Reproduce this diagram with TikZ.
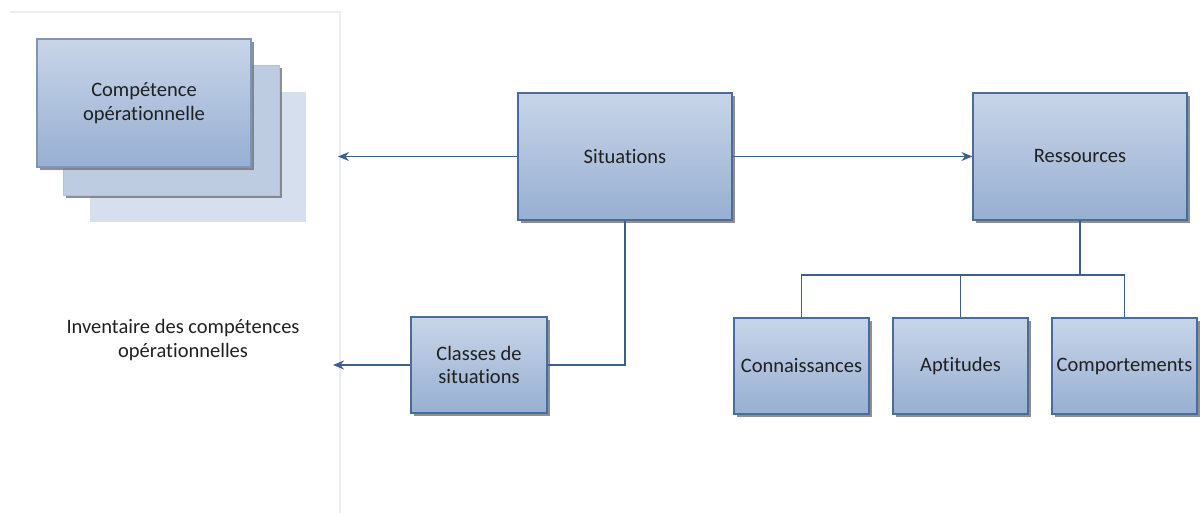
\documentclass[tikz,border=0pt]{standalone}
\usepackage{fontspec}
\setmainfont{Carlito}[Ligatures={NoCommon,NoContextual}]
\usetikzlibrary{shadows,arrows.meta,calc}
\definecolor{boxtop}{HTML}{C8D5E8}
\definecolor{boxbot}{HTML}{97AFD2}
\definecolor{boxline}{HTML}{4A6C9A}
\definecolor{conn}{HTML}{3E5F8E}
\definecolor{txt}{HTML}{202020}
\definecolor{panel}{HTML}{E8EEF6}
\definecolor{midbox}{HTML}{BDCCE1}
\definecolor{backbox}{HTML}{D5DFED}
\tikzset{
  box/.style={rectangle, draw=boxline, line width=1.2pt, inner sep=0pt,
    top color=boxtop, bottom color=boxbot, text=txt, align=center,
    font=\fontsize{20.5}{23.5}\selectfont,
    drop shadow={shadow xshift=3pt, shadow yshift=-3pt, fill=black!55, opacity=0.8}},
  conline/.style={draw=conn, line width=1.5pt},
  arr/.style={conline, -{Stealth[length=11pt,width=9pt]}},
  plain/.style={text=txt, align=center, font=\fontsize{20.5}{23.5}\selectfont}
}
\begin{document}
\begin{tikzpicture}[x=1pt,y=-1pt]
\useasboundingbox (0,0) rectangle (1200,513);
% faint panel
\draw[panel, line width=1.2pt] (10,12) -- (340,12) -- (340,513);
% stacked boxes
\node[rectangle, fill=backbox, minimum width=216, minimum height=130, inner sep=0pt] (back) at (198,157) {};
\node[rectangle, fill=midbox, draw=midbox!90!boxline, line width=0.8pt, minimum width=216, minimum height=130, inner sep=0pt,
  drop shadow={shadow xshift=3pt, shadow yshift=-3pt, fill=black!55, opacity=0.8}] (mid) at (171,130) {};
\node[box, draw=boxline!60!boxtop, minimum width=214, minimum height=128] (comp) at (144,103) {Compétence\\opérationnelle};
% main boxes
\node[box, minimum width=214, minimum height=127] (sit) at (625,156.5) {Situations};
\node[box, minimum width=214, minimum height=127] (res) at (1080,156.5) {Ressources};
\node[box, minimum width=136, minimum height=96] (cls) at (479,365) {Classes de\\situations};
\node[box, minimum width=135, minimum height=96] (con) at (801.5,366) {Connaissances};
\node[box, minimum width=135, minimum height=96] (apt) at (960.5,366) {Aptitudes};
\node[box, minimum width=145, minimum height=96] (cmp) at (1124.5,366) {Comportements};
% texts and free ends
\node[plain] (inv) at (183,340) {Inventaire des compétences\\opérationnelles};
\coordinate (e1) at (338,156.5);
\coordinate (e2) at (333,365);
\coordinate (bar) at (1080,275);
% connectors
\draw[arr] (sit.west) -- (e1);
\draw[arr] (sit.east) -- (res.west);
\draw[conline] (sit.south) |- (cls.east);
\draw[arr] (cls.west) -- (e2);
\draw[conline] (res.south) -- (bar);
\draw[conline] (con.north) |- (bar);
\draw[conline] (cmp.north) |- (bar);
\draw[conline] (apt.north) -- (apt.north |- bar);
\end{tikzpicture}
\end{document}
